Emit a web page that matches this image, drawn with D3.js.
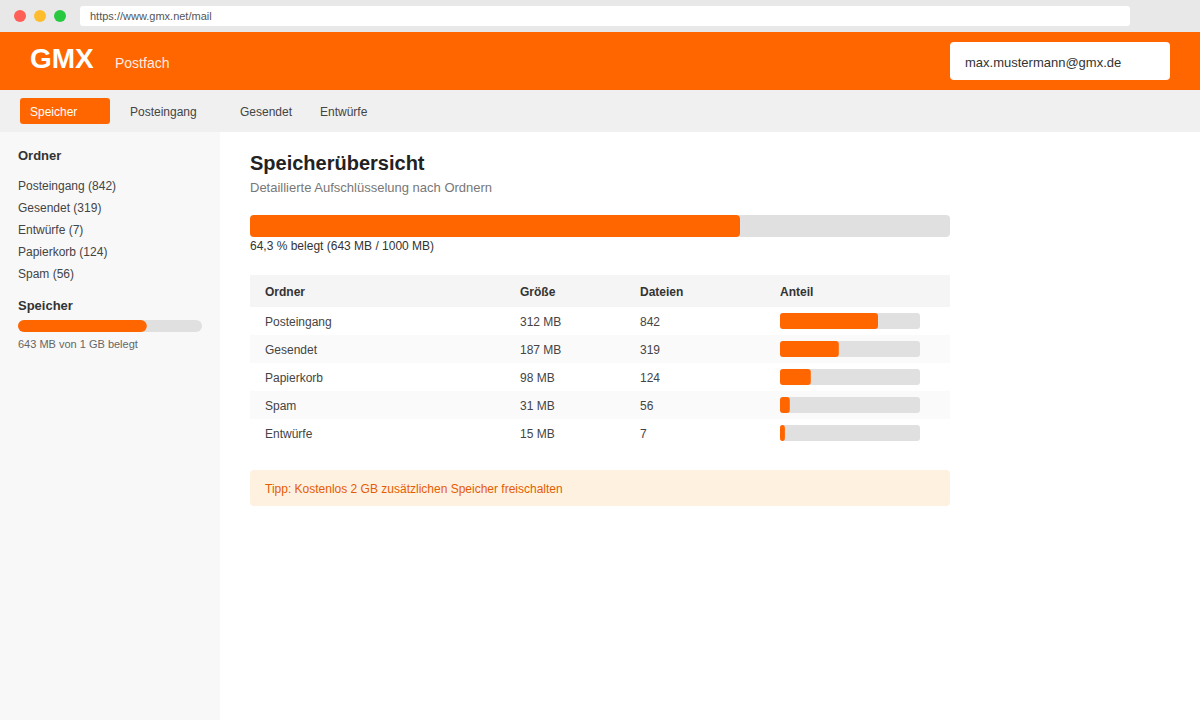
<!DOCTYPE html>
<html lang="de">
<head>
<meta charset="utf-8">
<title>GMX Speicher</title>
<script src="https://cdn.jsdelivr.net/npm/d3@7"></script>
<style>
  html, body { margin: 0; padding: 0; background: #fff; }
  svg { display: block; }
  text { font-family: "Liberation Sans", Arial, sans-serif; }
</style>
</head>
<body>
<svg id="drawing_region"></svg>
<script>
// values
const nav_items = ["Speicher", "Posteingang", "Gesendet", "Entwürfe"];
const side_folders = ["Posteingang", "Gesendet", "Entwürfe", "Papierkorb", "Spam"];
const side_counts = [842, 319, 7, 124, 56];
const table_columns = ["Ordner", "Größe", "Dateien", "Anteil"];
const table_folders = ["Posteingang", "Gesendet", "Papierkorb", "Spam", "Entwürfe"];
const table_sizes = [312, 187, 98, 31, 15];
const table_files = [842, 319, 124, 56, 7];
const table_share_bars = [70, 42, 22, 7, 3.5];
const used_bar = 70;

const ORANGE = "#ff6600";
const TRACK = "#e0e0e0";

const svg = d3.select("#drawing_region").attr("width", 1200).attr("height", 720);

function box(x, y, w, h, fill, r) {
    return svg.append("rect")
        .attr("x", x).attr("y", y).attr("width", w).attr("height", h)
        .attr("rx", r || 0).attr("fill", fill);
}

function label(x, y, str, size, fill, weight) {
    return svg.append("text")
        .attr("x", x).attr("y", y).text(str)
        .attr("font-size", size).attr("fill", fill)
        .attr("font-weight", weight || "normal");
}

// browser chrome
box(0, 0, 1200, 32, "#e8e8e8");
svg.selectAll("circle.dot")
    .data(["#ff5f57", "#ffbd2e", "#28c940"])
    .enter().append("circle")
    .attr("cx", (d, i) => 20 + i * 20)
    .attr("cy", 16)
    .attr("r", 6)
    .attr("fill", d => d);
box(80, 6, 1050, 20, "#fff", 3);
label(90, 20, "https://www.gmx.net/mail", 11, "#555");

// header
box(0, 32, 1200, 58, ORANGE);
label(30, 68, "GMX", 28, "#fff", "bold");
label(115, 68, "Postfach", 14, "#fff").attr("fill-opacity", 0.9);
box(950, 42, 220, 38, "#fff", 4);
label(965, 67, "max.mustermann@gmx.de", 13, "#333");

// nav band
box(0, 90, 1200, 42, "#f0f0f0");
box(20, 98, 90, 26, ORANGE, 3);
const nav_x = [30, 130, 240, 320];
nav_items.forEach((d, i) => {
    label(nav_x[i], 116, d, 12, i === 0 ? "#fff" : "#444");
});

// sidebar
box(0, 132, 220, 588, "#f8f8f8");
label(18, 160, "Ordner", 13, "#333", "bold");
const side_y = d3.scalePoint().domain(side_folders).range([190, 278]);
side_folders.forEach((d, i) => {
    label(18, side_y(d), `${d} (${side_counts[i]})`, 12, "#444");
});
label(18, 310, "Speicher", 13, "#333", "bold");
const side_x = d3.scaleLinear().domain([0, 100]).range([0, 184]);
box(18, 320, side_x(100), 12, TRACK, 6);
box(18, 320, side_x(used_bar), 12, ORANGE, 6);
label(18, 348, "643 MB von 1 GB belegt", 11, "#666");

// main heading and overall bar
label(250, 170, "Speicherübersicht", 20, "#222", "bold");
label(250, 192, "Detaillierte Aufschlüsselung nach Ordnern", 13, "#777");
const main_x = d3.scaleLinear().domain([0, 100]).range([0, 700]);
box(250, 215, main_x(100), 22, TRACK, 4);
box(250, 215, main_x(used_bar), 22, ORANGE, 4);
label(250, 250, "64,3 % belegt (643 MB / 1000 MB)", 12, "#333");

// table
box(250, 275, 700, 32, "#f5f5f5");
const col_x = [265, 520, 640, 780];
table_columns.forEach((d, i) => {
    label(col_x[i], 296, d, 12, "#333", "bold");
});

const row_y = d3.scaleBand().domain(table_folders).range([307, 447]);
const share_x = d3.scaleLinear().domain([0, 100]).range([0, 140]);

const rows = svg.selectAll("g.row")
    .data(table_folders)
    .enter().append("g")
    .attr("class", "row")
    .attr("transform", d => `translate(0, ${row_y(d)})`);

rows.filter((d, i) => i % 2 === 1).append("rect")
    .attr("x", 250).attr("width", 700)
    .attr("height", row_y.bandwidth())
    .attr("fill", "#fafafa");

rows.append("text").attr("x", col_x[0]).attr("y", 19)
    .attr("font-size", 12).attr("fill", "#444").text(d => d);
rows.append("text").attr("x", col_x[1]).attr("y", 19)
    .attr("font-size", 12).attr("fill", "#444").text((d, i) => `${table_sizes[i]} MB`);
rows.append("text").attr("x", col_x[2]).attr("y", 19)
    .attr("font-size", 12).attr("fill", "#444").text((d, i) => table_files[i]);

rows.append("rect")
    .attr("x", col_x[3]).attr("y", 6)
    .attr("width", share_x(100)).attr("height", 16)
    .attr("rx", 3).attr("fill", TRACK);
rows.append("rect")
    .attr("x", col_x[3]).attr("y", 6)
    .attr("width", (d, i) => share_x(table_share_bars[i])).attr("height", 16)
    .attr("rx", 3).attr("fill", ORANGE);

// tip
box(250, 470, 700, 36, "#fff1e0", 4);
label(265, 493, "Tipp: Kostenlos 2 GB zusätzlichen Speicher freischalten", 12, "#e65c00");
</script>
</body>
</html>
